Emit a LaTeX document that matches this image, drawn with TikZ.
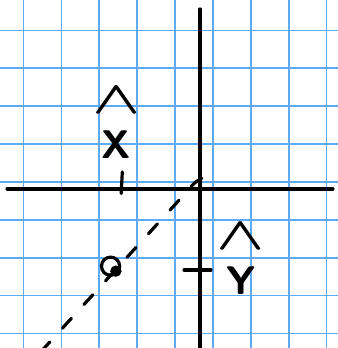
\documentclass[tikz,border=0pt]{standalone}
\usepackage{amsmath}
\usepackage{bm}
\tikzset{
    gridline/.style={draw=gridblue,line width=1.3pt},
    axisline/.style={line width=2.6pt,line cap=round},
    pen/.style={line width=2.4pt,line cap=round},
    handlabel/.style={inner sep=0pt,font=\fontsize{30}{30}\selectfont}
}
\definecolor{gridblue}{RGB}{95,170,245}
\newcommand{\bighat}[1]{\overset{\scalebox{1.9}[1.4]{$\bm{\wedge}$}}{\vphantom{\Big|}\textsf{\bfseries #1}}}
\begin{document}
\begin{tikzpicture}

    %fix the page to the sheet
    \useasboundingbox (-5.28,-4.2) rectangle (3.64,4.99);
    \clip (-5.28,-4.2) rectangle (3.64,4.99);

    %draw grid paper
    \draw[gridline,step=1cm,shift={(0.343,0.185)}] (-6,-5) grid (4,5);

    %draw axis
    \coordinate (xleft) at (-5.09,0);
    \coordinate (xright) at (3.51,0);
    \coordinate (ytop) at (0,4.75);
    \coordinate (ybot) at (0,-4.3);
    \draw[axisline] (xleft) -- (xright);
    \draw[axisline] (ytop) -- (ybot);

    %draw ticks
    \coordinate (xtickhi) at (-2.05,0.45);
    \coordinate (xticklo) at (-2.08,-0.12);
    \coordinate (ytickl) at (-0.42,-2.14);
    \coordinate (ytickr) at (0.29,-2.14);
    \draw[pen] (xtickhi) -- (xticklo);
    \draw[pen] (ytickl) -- (ytickr);

    %draw axis labels
    \node[handlabel] (xhat) at (-2.2,1.5) {$\bighat{X}$};
    \node[handlabel] (yhat) at (1.08,-2.1) {$\bighat{Y}$};

    %draw dashed line and point
    \coordinate (dashstart) at (-4.2,-4.3);
    \coordinate (dashend) at (0.13,0.32);
    \draw[pen,dash pattern=on 10pt off 14pt] (dashstart) -- (-0.3,-0.02) to[bend left=15] (dashend);
    \coordinate (pt) at (-2.22,-2.17);
    \fill (pt) circle (0.15);
    \draw[pen] (-2.36,-2.04) circle (0.24);

\end{tikzpicture}
\end{document}
